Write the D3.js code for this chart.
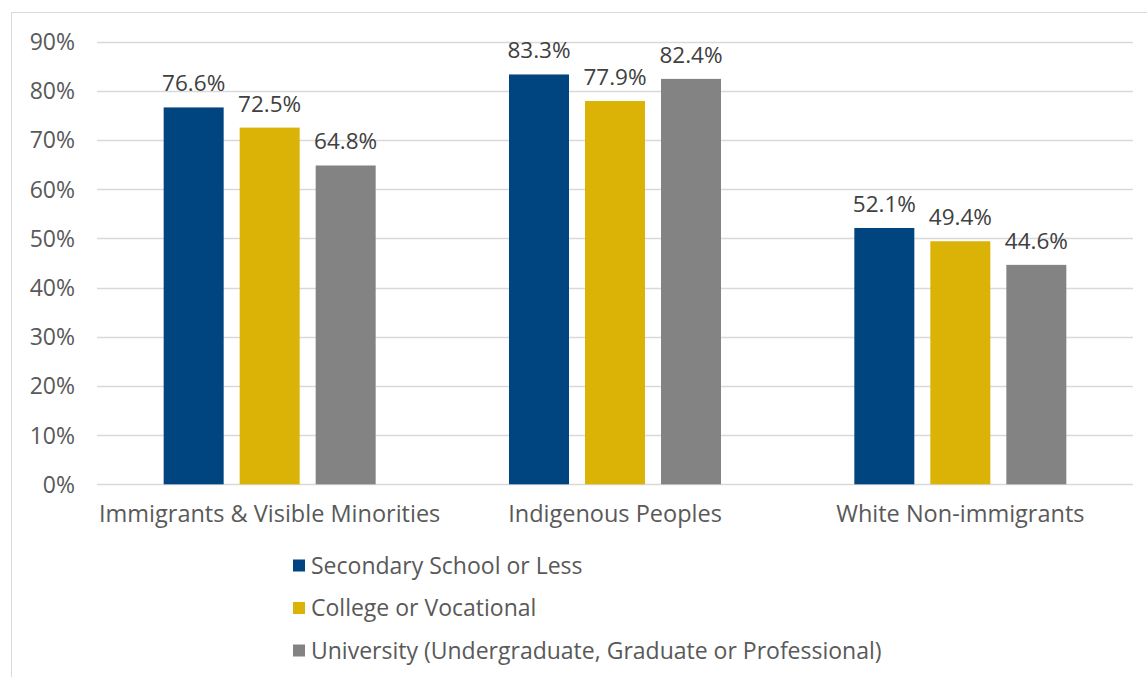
<!DOCTYPE html>
<html><head><meta charset="utf-8">
<script src="https://cdn.jsdelivr.net/npm/d3@7"></script>
<style>body{margin:0;background:#fff}text{font-family:"Open Sans",sans-serif}</style>
</head><body>
<svg id="c" width="1147" height="677"></svg>
<script>
const categories = ["Immigrants & Visible Minorities", "Indigenous Peoples", "White Non-immigrants"];
const seriesNames = ["Secondary School or Less", "College or Vocational", "University (Undergraduate, Graduate or Professional)"];
const secondary = [76.6, 83.3, 52.1];
const college = [72.5, 77.9, 49.4];
const university = [64.8, 82.4, 44.6];
const yTicks = [0, 10, 20, 30, 40, 50, 60, 70, 80, 90];
const colors = ["#00457f", "#dbb206", "#838383"];

const seriesValues = [secondary, college, university];
const svg = d3.select("#c");
const W = 1147, H = 677;
const m = {left: 97, right: 1133, top: 41.5, bottom: 484.3};

svg.append("rect").attr("x", 11.5).attr("y", 12.5).attr("width", W).attr("height", H)
  .attr("fill", "none").attr("stroke", "#d9d9d9").attr("stroke-width", 1);

const y = d3.scaleLinear().domain([0, 90]).range([m.bottom, m.top]);
const x0 = d3.scaleBand().domain(categories).range([m.left, m.right]).paddingInner(0).paddingOuter(0);
const groupW = 212;
const x1 = d3.scaleBand().domain(seriesNames).range([0, groupW]).paddingInner(16 / 76).paddingOuter(0);

// gridlines
svg.append("g").selectAll("line").data(yTicks).join("line")
  .attr("x1", m.left).attr("x2", m.right)
  .attr("y1", d => Math.round(y(d)) + 0.5).attr("y2", d => Math.round(y(d)) + 0.5)
  .attr("stroke", "#d9d9d9").attr("stroke-width", 1.5);

// y labels
const yAxis = d3.axisLeft(y).tickValues(yTicks).tickFormat(d => d + "%").tickSize(0).tickPadding(0);
const ya = svg.append("g").attr("transform", `translate(75,0)`).call(yAxis);
ya.select(".domain").remove();
ya.selectAll("text").attr("font-size", 23).attr("fill", "#595959").attr("font-family", "Open Sans").attr("dy", "0.35em");

// bars
const groups = svg.append("g").selectAll("g").data(categories).join("g")
  .attr("transform", d => `translate(${x0(d) + (x0.bandwidth() - groupW) / 2},0)`);
groups.each(function(cat, ci) {
  const g = d3.select(this);
  const data = seriesNames.map((s, si) => ({s, si, v: seriesValues[si][ci]}));
  g.selectAll("rect").data(data).join("rect")
    .attr("x", d => x1(d.s)).attr("width", x1.bandwidth())
    .attr("y", d => y(d.v)).attr("height", d => y(0) - y(d.v))
    .attr("fill", d => colors[d.si]);
  g.selectAll("text").data(data).join("text")
    .attr("x", d => x1(d.s) + x1.bandwidth() / 2).attr("y", d => y(d.v) - 16)
    .attr("text-anchor", "middle").attr("font-size", 22.5).attr("fill", "#404040")
    .text(d => d.v.toFixed(1) + "%");
});

// x labels
const xAxis = d3.axisBottom(x0).tickSize(0).tickPadding(0);
const xa = svg.append("g").attr("transform", `translate(0,${m.bottom})`).call(xAxis);
xa.select(".domain").remove();
xa.selectAll("text").attr("font-size", 23.5).attr("fill", "#595959").attr("font-family", "Open Sans").attr("dy", "0").attr("y", 38);

// legend
const leg = svg.append("g").selectAll("g").data(seriesNames).join("g")
  .attr("transform", (d, i) => `translate(293,${565.5 + i * 42.5})`);
leg.append("rect").attr("x", 0).attr("y", -6).attr("width", 12).attr("height", 12).attr("fill", (d, i) => colors[i]);
leg.append("text").attr("x", 18).attr("y", 0).attr("dy", "0.35em").attr("font-size", 23).attr("fill", "#595959").text(d => d);
</script>
</body></html>
